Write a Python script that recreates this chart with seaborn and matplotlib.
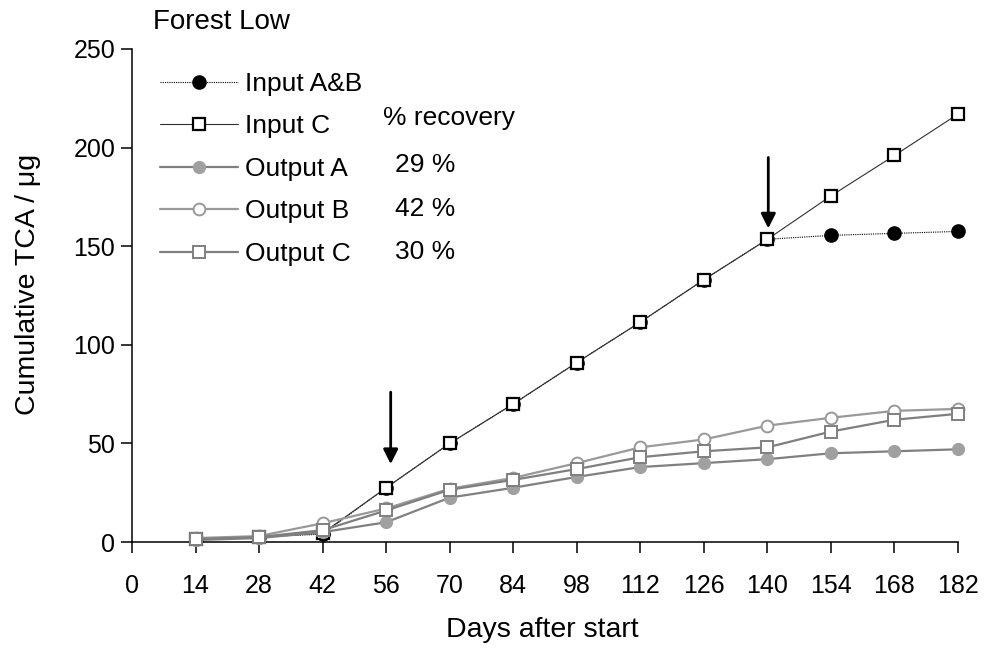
import matplotlib
matplotlib.use("Agg")
import matplotlib.pyplot as plt
import seaborn as sns
from matplotlib.lines import Line2D

days = [14, 28, 42, 56, 70, 84, 98, 112, 126, 140, 154, 168, 182]
input_ab = [1.5, 2.5, 4.0, 27.5, 50, 70, 91, 111.5, 133, 153.5, 155.5, 156.5, 157.5]
input_c = [1.5, 2.5, 4.5, 27.5, 50, 70, 91, 111.5, 133, 153.5, 175.5, 196, 217]
output_a = [1, 2, 5, 10, 22.5, 27.5, 33, 38, 40, 42, 45, 46, 47]
output_b = [2, 3, 9.5, 17, 27, 32.5, 40, 48, 52, 59, 63, 66.5, 67.5]
output_c = [1.5, 2.5, 6, 16, 26.5, 31.5, 37, 43, 46, 48, 56, 62, 65]

labels = ["Input A&B", "Input C", "Output A", "Output B", "Output C"]
recovery = ["29 %", "42 %", "30 %"]
xticks = list(range(0, 183, 14))
yticks = [0, 50, 100, 150, 200, 250]

sns.set_style("ticks")
plt.rcParams["font.family"] = ["Liberation Sans", "DejaVu Sans"]
plt.rcParams["text.color"] = "black"
plt.rcParams["axes.labelcolor"] = "black"
plt.rcParams["xtick.color"] = "black"
plt.rcParams["ytick.color"] = "black"
FS_TICK = 18
FS_LEG = 19
FS_TITLE = 20
FS_AXIS = 20.5

fig = plt.figure(figsize=(9.86, 6.57), dpi=100)
ax = fig.add_axes([132 / 986, 1 - 542 / 657, (958 - 132) / 986, (542 - 49) / 657])

styles = [
    dict(y=input_ab, color="black", lw=0.8, ls=(0, (1, 1)), marker="o", ms=9.5,
         mfc="black", mec="black", mew=1.0, z=3),
    dict(y=input_c, color="#303030", lw=0.8, ls="-", marker="s", ms=8.8,
         mfc="white", mec="black", mew=1.6, z=4),
    dict(y=output_a, color="#808080", lw=1.6, ls="-", marker="o", ms=8.5,
         mfc="#a0a0a0", mec="#a0a0a0", mew=1.0, z=5),
    dict(y=output_b, color="#999999", lw=1.6, ls="-", marker="o", ms=8.5,
         mfc="white", mec="#999999", mew=1.4, z=6),
    dict(y=output_c, color="#7f7f7f", lw=1.6, ls="-", marker="s", ms=8.5,
         mfc="white", mec="#7f7f7f", mew=1.4, z=7),
]

handles = []
for lab, st in zip(labels, styles):
    sns.lineplot(x=days, y=st["y"], ax=ax, color=st["color"], linewidth=st["lw"],
                 linestyle=st["ls"], marker=st["marker"], markersize=st["ms"],
                 markerfacecolor=st["mfc"], markeredgecolor=st["mec"],
                 markeredgewidth=st["mew"], zorder=st["z"], clip_on=False,
                 legend=False)
    handles.append(Line2D([], [], color=st["color"], linewidth=st["lw"],
                          linestyle=st["ls"], marker=st["marker"], markersize=st["ms"],
                          markerfacecolor=st["mfc"], markeredgecolor=st["mec"],
                          markeredgewidth=st["mew"], label=lab))

ax.set_xlim(0, 182)
ax.set_ylim(0, 250)
ax.set_xticks(xticks)
ax.set_yticks(yticks)
ax.tick_params(axis="both", direction="out", length=8, width=1.1, labelsize=FS_TICK,
               colors="black", labelcolor="black")
ax.tick_params(axis="x", pad=15)
ax.tick_params(axis="y", pad=4)
for s in ["top", "right"]:
    ax.spines[s].set_visible(False)
for s in ["left", "bottom"]:
    ax.spines[s].set_linewidth(1.1)
    ax.spines[s].set_color("black")

fig.text(542 / 986, 1 - 630 / 657, "Days after start", fontsize=FS_AXIS,
         ha="center", va="center", color="black")
fig.text(28 / 986, 1 - 284 / 657, "Cumulative TCA / μg", fontsize=FS_AXIS,
         ha="center", va="center", rotation=90, color="black")

fig.text(153 / 986, 1 - 22 / 657, "Forest Low", fontsize=FS_TITLE, va="center",
         ha="left", color="black")

leg = ax.legend(handles=handles, loc="upper left",
                bbox_to_anchor=(160 / 986, 1 - 72 / 657), bbox_transform=fig.transFigure,
                frameon=False, fontsize=FS_LEG, handlelength=2.95, handletextpad=0.27,
                labelspacing=0.70, borderaxespad=0, borderpad=0, labelcolor="black")

ax.text(55.3, 215, "% recovery", fontsize=FS_LEG, va="center", ha="left", color="black")
for yv, t in zip([191, 169, 147], recovery):
    ax.text(58.0, yv, t, fontsize=FS_LEG, va="center", ha="left", color="black")

arrow = dict(arrowstyle="-|>", lw=2.0, color="black", mutation_scale=22,
             shrinkA=0, shrinkB=0)
ax.annotate("", xy=(57, 39.5), xytext=(57, 76), arrowprops=arrow)
ax.annotate("", xy=(140.2, 159), xytext=(140.2, 195), arrowprops=arrow)

fig.savefig("out.png", dpi=100)
